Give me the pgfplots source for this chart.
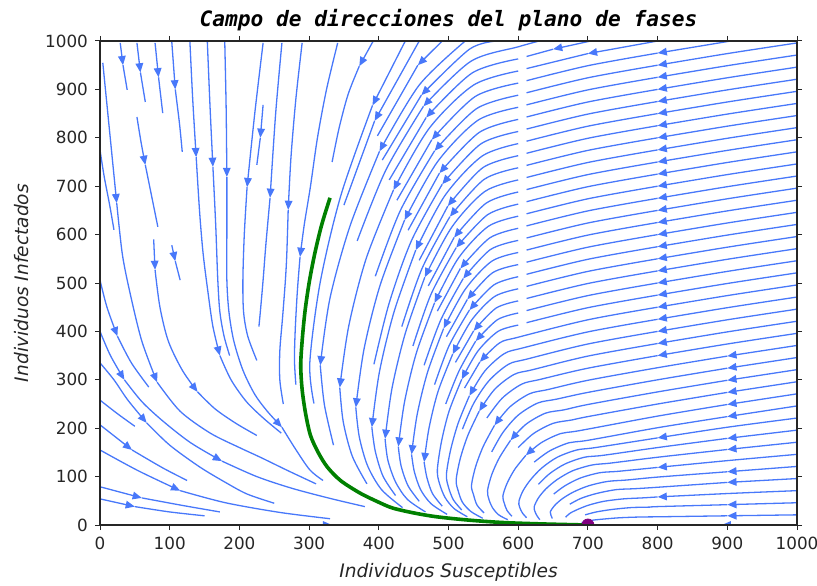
\documentclass[border=0pt]{standalone}
\usepackage{fontspec}
\setmainfont{DejaVu Sans}[ItalicFont={DejaVu Sans Oblique}]
\newfontfamily\titlefont{DejaVu Sans Mono}[BoldFont={DejaVu Sans Mono Bold},ItalicFont={DejaVu Sans Mono Oblique},BoldItalicFont={DejaVu Sans Mono Bold Oblique}]
\usepackage{pgfplots}
\pgfplotsset{compat=1.18}
\usetikzlibrary{arrows.meta}
\definecolor{sb}{RGB}{72,120,250}
\definecolor{gr}{RGB}{0,128,0}
\definecolor{pu}{RGB}{128,0,128}
\pgfplotsset{st/.style={color=sb,line width=0.65pt,smooth}}
\newcommand{\SA}[1]{\addplot[st,-{Triangle[length=4.6pt,width=3.8pt]}] coordinates {#1};}
\newcommand{\SB}[1]{\addplot[st] coordinates {#1};}
\begin{document}
\begin{tikzpicture}
\begin{axis}[
 scale only axis, width=348.5pt, height=242pt,
 xmin=0,xmax=1000,ymin=0,ymax=1000,
 xtick={0,100,...,1000}, ytick={0,100,...,1000},
 tick align=outside, major tick length=2.5pt,
 tick style={color=black!85, line width=0.5pt},
 axis line style={color=black!85, line width=0.6pt},
 /pgf/number format/1000 sep={},
 /pgf/number format/assume math mode=true,
 tick label style={font=\fontsize{8.4}{9}\selectfont, color=black!85},
 title={\titlefont\bfseries\itshape Campo de direcciones del plano de fases},
 title style={at={(axis description cs:0.5,1.0186)}, anchor=center, font=\fontsize{10.6}{12}\selectfont},
 xlabel={\itshape Individuos Susceptibles},
 xlabel style={at={(axis description cs:0.5,-0.0971)}, anchor=center, font=\fontsize{9.3}{11}\selectfont, color=black!85},
 ylabel={\itshape Individuos Infectados},
 ylabel style={at={(axis description cs:-0.1119,0.5)}, anchor=center, font=\fontsize{9.3}{11}\selectfont, color=black!85},
 clip marker paths=true,
 axis on top,
]
% ---------- left family ----------
\SA{(0,54)(50,38)}\SB{(50,38)(100,27)(150,19)}
\SA{(0,79)(60,56)}\SB{(60,56)(120,40)(172,27)}
\SA{(0,155)(55,112)(115,71)}\SB{(115,71)(180,46)(258,26)(330,13)}
\SA{(0,207)(46,155)}\SB{(46,155)(90,118)(125,92)}
\SB{(0,258)(25,230)(50,204)}
\SA{(0,335)(20,300)(40,258)(67,211)}\SB{(67,211)(100,165)(143,120)(180,88)(211,64)(250,45)}
\SA{(0,400)(15,350)(35,300)}\SA{(35,300)(60,255)(90,215)(130,170)(175,132)}\SB{(175,132)(225,100)(275,76)(330,55)(380,38)}
\SA{(0,506)(10,450)(25,390)}\SB{(25,390)(45,335)(70,285)}
\SA{(4,955)(14,810)(24,665)}\SA{(24,665)(32,560)(43,480)(60,380)(82,295)}\SB{(82,295)(115,235)(158,190)(200,160)(230,140)(270,112)(310,85)}
\SB{(0,775)(6,720)(14,660)(20,610)}
\SA{(53,843)(59,790)(65,744)}\SB{(65,744)(74,680)(83,616)}
\SA{(77,590)(79,527)}\SA{(79,527)(86,450)(98,380)(118,320)(140,275)}\SB{(140,275)(165,240)(195,210)(225,185)}
\SA{(129,998)(133,880)(138,760)}\SA{(138,760)(143,645)(148,560)(155,480)(162,410)(172,350)}\SB{(172,350)(188,300)(210,255)(235,220)(260,190)}
\SA{(154,998)(158,860)(162,740)}\SB{(162,740)(166,620)(169,506)(172,440)(178,390)(186,350)}
\SA{(179,998)(181,860)(182,719)}\SA{(182,719)(182,600)(182,506)(185,440)(192,380)(205,320)(222,270)(240,235)(261,202)}\SB{(261,202)(280,158)(301,114)(320,92)}
\SA{(234,996)(222,850)(211,698)}\SB{(211,698)(207,600)(205,506)(206,440)(212,390)(225,340)}
\SA{(261,996)(252,850)(244,676)}\SB{(244,676)(238,580)(234,506)(230,440)(228,410)}
\SA{(234,868)(230,800)}\SB{(230,800)(225,744)}
\SA{(290,996)(281,880)(274,760)(270,651)}\SB{(270,651)(268,560)(266,506)(262,430)(258,360)(258,300)(263,250)}
\SA{(341,996)(325,900)(312,800)(302,700)(293,620)(287,554)}\SB{(287,554)(283,480)(280,400)(279,340)(281,290)}
\SA{(392,1000)(372,948)}\SB{(372,948)(356,890)(343,820)(333,750)}
\SA{(29,996)(33,950)}\SB{(33,950)(39,899)}
\SA{(53,996)(58,935)}\SB{(58,935)(65,874)}
\SA{(79,996)(84,925)}\SB{(84,925)(90,851)}
\SA{(103,998)(108,900)}\SB{(108,900)(114,830)(118,771)}
\SA{(103,578)(108,545)}\SB{(108,545)(115,506)}
\SA{(0,0)(333,0)}\SB{(333,0)(666,0)}
\SA{(1000,0)(892,0)}\SB{(892,0)(784,0)}
% ---------- right family: entering from the top ----------
\SA{(438,1000)(391,867)}\SB{(391,867)(346,683)(316,502)(301,335)(307,251)}
\SA{(458,1000)(394,835)}\SB{(394,835)(350,661)}
\SA{(491,1000)(456,950)}\SB{(456,950)(398,804)}
\SA{(524,1000)(458,909)(401,772)}\SA{(401,772)(359,619)(330,469)(316,330)}\SB{(316,330)(322,248)(335,165)}
\SA{(570,1000)(530,983)(461,888)}\SB{(461,888)(405,754)}
\SA{(630,1000)(600,988)(532,958)(464,865)}\SB{(464,865)(410,733)(369,587)}
\SA{(704,1000)(650,983)}\SB{(650,983)(612,968)}
\SA{(600,963)(534,934)(468,842)}\SB{(468,842)(415,713)}
\SA{(800,1000)(700,974)}\SB{(700,974)(612,943)}
\SA{(600,938)(536,909)(472,819)(421,692)}\SA{(421,692)(382,551)(357,412)(344,284)}\SB{(344,284)(349,213)(362,142)(383,85)}
\SA{(905,1000)(800,975)}\SB{(800,975)(700,949)(612,918)}
\SA{(600,913)(538,885)(476,796)}\SB{(476,796)(426,671)}
% ---------- right family: entering from the right ----------
\SA{(1000,996)(900,974)(800,950)}\SB{(800,950)(700,924)(612,893)}
\SA{(600,888)(540,860)(480,773)}\SB{(480,773)(431,650)(395,514)}
\SA{(1000,971)(900,949)(800,925)}\SB{(800,925)(700,899)(612,868)}
\SA{(600,863)(542,836)(484,750)(437,630)}\SA{(437,630)(402,496)(379,365)(367,243)}\SB{(367,243)(372,182)(384,122)(404,73)(434,36)}
\SA{(1000,946)(900,924)(800,900)}\SB{(800,900)(700,874)(612,843)}
\SA{(600,838)(544,811)(487,727)}\SB{(487,727)(442,609)}
\SA{(1000,921)(900,899)(800,875)}\SB{(800,875)(700,849)(612,818)}
\SA{(600,813)(546,787)(491,704)}\SB{(491,704)(447,588)(415,459)(393,332)}
\SA{(1000,896)(900,874)(800,850)}\SB{(800,850)(700,824)(612,793)}
\SA{(600,788)(548,762)(495,681)(453,568)}\SA{(453,568)(422,441)(401,317)(390,202)}\SB{(390,202)(395,152)(406,101)(424,61)}
\SA{(1000,871)(900,849)(800,825)}\SB{(800,825)(700,799)(612,768)}
\SA{(600,763)(549,738)(499,659)}\SB{(499,659)(458,547)}
\SA{(1000,846)(900,824)(800,800)}\SB{(800,800)(700,774)(612,743)}
\SA{(600,738)(551,714)(502,637)}\SB{(502,637)(462,530)(433,410)}
\SA{(1000,821)(900,799)(800,775)}\SB{(800,775)(700,749)(612,718)}
\SA{(600,713)(552,689)(505,616)(466,512)}\SA{(466,512)(438,396)(419,283)(409,178)}\SB{(409,178)(413,134)(424,89)(441,53)(467,27)}
\SA{(1000,796)(900,774)(800,750)}\SB{(800,750)(700,724)(612,693)}
\SA{(600,688)(554,665)(508,594)}\SB{(508,594)(471,494)}
\SA{(1000,771)(900,749)(800,725)}\SB{(800,725)(700,699)(612,668)}
\SA{(600,663)(556,641)(511,573)}\SB{(511,573)(475,477)(449,370)}
\SA{(1000,746)(900,724)(800,700)}\SB{(800,700)(700,674)(612,643)}
\SA{(600,638)(557,617)(514,551)(480,459)}\SA{(480,459)(454,356)(437,255)(428,162)}\SB{(428,162)(432,122)(442,81)(458,49)}
\SA{(1000,721)(900,699)(800,675)}\SB{(800,675)(700,649)(612,618)}
\SA{(600,613)(559,593)(517,530)}\SB{(517,530)(484,442)}
\SA{(1000,696)(900,674)(800,650)}\SB{(800,650)(700,624)(612,593)}
\SA{(600,588)(560,569)(521,509)}\SB{(521,509)(489,424)(465,330)}
\SA{(1000,671)(900,649)(800,625)}\SB{(800,625)(700,599)(612,568)}
\SA{(600,563)(562,545)(524,487)(493,406)}\SA{(493,406)(470,316)(455,228)(447,146)}\SB{(447,146)(451,110)(460,73)(475,44)(498,22)}
\SA{(1000,646)(900,624)(800,600)}\SB{(800,600)(700,574)(612,543)}
\SA{(600,538)(563,521)(527,466)}\SB{(527,466)(497,389)}
\SA{(1000,621)(900,599)(800,575)}\SB{(800,575)(700,549)(612,518)}
\SA{(600,513)(565,496)(530,444)}\SB{(530,444)(501,371)(480,290)}
\SA{(1000,596)(900,574)(800,550)}\SB{(800,550)(700,524)(612,493)}
\SA{(600,488)(566,472)(533,423)(506,353)}\SA{(506,353)(485,276)(472,200)(465,130)}\SB{(465,130)(469,98)(477,65)(491,39)}
\SA{(1000,571)(900,549)(800,525)}\SB{(800,525)(700,499)(612,468)}
\SA{(600,463)(568,448)(536,401)}\SB{(536,401)(510,336)}
\SA{(1000,546)(900,524)(800,500)}\SB{(800,500)(700,474)(612,443)}
\SA{(600,438)(570,424)(539,380)}\SB{(539,380)(515,318)(496,250)}
\SA{(1000,521)(900,499)(800,475)}\SB{(800,475)(700,449)(612,418)}
\SA{(600,413)(571,400)(542,359)(519,301)}\SB{(519,301)(501,236)(490,173)(484,114)(487,86)(495,57)(508,34)(527,17)}
\SA{(1000,496)(900,474)(800,450)}\SA{(800,450)(700,424)(600,388)(573,376)(545,337)}\SB{(545,337)(523,283)}
\SA{(1000,471)(900,449)(800,425)}\SA{(800,425)(700,399)(607,366)(580,354)(552,318)(530,267)}\SB{(530,267)(514,211)(503,155)(497,104)(500,78)(507,52)(519,31)}
\SA{(1000,446)(900,424)(800,400)}\SB{(800,400)(700,374)(613,343)(586,332)(558,298)(536,251)(520,198)}
\SA{(1000,421)(900,399)(800,375)}\SA{(800,375)(700,349)(621,321)(594,311)(566,280)(544,235)}\SB{(544,235)(528,186)(517,138)(511,93)(514,70)(520,47)(532,28)(549,14)}
\SA{(1000,396)(900,374)(800,350)}\SB{(800,350)(700,324)(632,301)(605,291)(577,262)(555,221)}
\SA{(1000,371)(900,349)}\SA{(900,349)(800,325)(700,299)(643,280)(616,271)(588,244)(566,206)}\SB{(566,206)(550,163)(539,121)(533,82)(536,62)(541,41)(551,25)}
\SA{(1000,346)(900,324)}\SB{(900,324)(800,300)(700,274)(655,260)(628,252)(600,227)(578,191)(562,151)}
\SA{(1000,321)(900,299)}\SA{(900,299)(800,275)(700,249)(666,238)(639,231)(611,208)(589,175)}\SB{(589,175)(573,139)(562,104)(556,71)(558,53)(563,36)(572,21)(585,11)}
\SA{(1000,296)(900,274)}\SB{(900,274)(800,250)(700,224)(677,217)(650,210)(622,189)(600,160)}
\SA{(1000,271)(900,249)}\SA{(900,249)(800,225)(688,195)(661,189)(633,170)(611,144)}\SB{(611,144)(595,115)(584,86)(578,60)(580,45)(584,30)(591,18)}
\SA{(1000,246)(900,224)}\SB{(900,224)(800,201)(700,175)(673,170)(645,153)(623,130)}
\SA{(1000,221)(900,202)(800,180)}\SB{(800,180)(711,160)(684,155)(656,140)(634,118)(618,94)(607,71)(601,49)(602,37)(606,25)(612,15)}
\SA{(1000,196)(900,179)}\SB{(900,179)(800,160)(722,144)(695,140)(667,126)(645,106)(629,84)}
\SA{(1000,171)(900,156)}\SB{(900,156)(800,140)(733,128)(706,124)(678,112)(656,94)(640,75)(629,56)(623,38)(624,28)(627,19)(631,11)}
\SA{(1000,146)(900,133)(800,119)}\SB{(800,119)(744,111)(717,108)(689,97)(667,81)(651,64)}
\SA{(1000,121)(900,110)}\SB{(900,110)(800,99)(756,93)(728,90)(701,81)(679,68)(663,54)(652,40)(646,27)(647,20)(649,13.5)}
\SA{(1000,96)(900,88)}\SB{(900,88)(800,78)(767,75)(740,73)(712,65)(690,55)(674,43)}
\SA{(1000,71)(900,65)(800,58)}\SB{(800,58)(778,56)(751,54)(723,49)(701,41)(685,32)(674,24)(668,16)}
\SA{(1000,46)(900,42)}\SB{(900,42)(800,38)(789,37)(762,36)(734,32)(712,27)(696,21)}
\SA{(1000,21)(900,19)}\SB{(900,19)(801,17)(774,16.5)(746,15)(724,12.5)(707,10)(697,7)(691,5)}
% ---------- trajectory ----------
\addplot[color=gr,line width=1.8pt,smooth] coordinates {(330,676)(318,620)(308,560)(300,500)(294,440)(290,380)(288,330)(290,280)(295,230)(302,185)(313,150)(326,120)(345,92)(373,66)(400,47)(420,35)(450,25)(483,17)(530,10)(580,5)(640,2)(700,0)};
\addplot[only marks,mark=*,mark size=3pt,color=pu] coordinates {(700,0)};
\end{axis}
\pgfresetboundingbox
\useasboundingbox ([shift={(-50pt,-30pt)}]current axis.south west) rectangle ([shift={(10pt,20.5pt)}]current axis.north east);
\end{tikzpicture}
\end{document}
